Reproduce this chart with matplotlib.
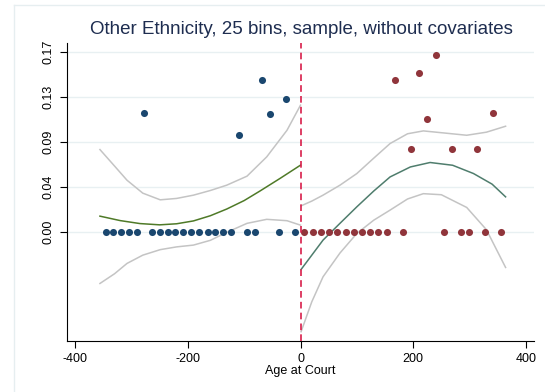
import matplotlib
matplotlib.use("Agg")
import matplotlib.pyplot as plt
from matplotlib.lines import Line2D

plt.rcParams['font.family'] = ['Liberation Sans', 'DejaVu Sans']

# binned means, left of cutoff
left_x = [-346, -332, -318, -305, -291, -277, -264, -250, -236, -222, -208, -194, -180,
          -165, -151, -137, -123, -109, -95, -81, -68, -54, -39, -25, -10]
left_y = [0, 0, 0, 0, 0, 0.112, 0, 0, 0, 0, 0, 0, 0,
          0, 0, 0, 0, 0.091, 0, 0, 0.143, 0.111, 0, 0.125, 0]

# binned means, right of cutoff
right_x = [6, 22, 36, 51, 65, 80, 95, 109, 124, 138, 153, 168, 182,
           197, 211, 225, 240, 255, 269, 284, 299, 313, 327, 342, 356]
right_y = [0, 0, 0, 0, 0, 0, 0, 0, 0, 0, 0, 0.143, 0,
           0.078, 0.150, 0.106, 0.167, 0, 0.078, 0, 0, 0.078, 0, 0.112, 0]

# fitted polynomial, left side
fitL_x = [-356, -320, -285, -250, -220, -190, -160, -131, -100, -72, -36, 0]
fitL_y = [0.0148, 0.0106, 0.0078, 0.0066, 0.0076, 0.0103, 0.0152, 0.0215, 0.0295, 0.0385, 0.0505, 0.0629]
# confidence band, left side
ciL_x = [-356, -330, -308, -280, -249, -220, -190, -160, -131, -95, -60, -24, 0]
ciL_hi = [0.0776, 0.0620, 0.0487, 0.0365, 0.0302, 0.0315, 0.0346, 0.0390, 0.0440, 0.0525, 0.0707, 0.0958, 0.1195]
ciL_lo = [-0.0487, -0.0395, -0.0298, -0.0220, -0.0168, -0.0142, -0.0125, -0.0080, -0.0005, 0.0080, 0.0118, 0.0105, 0.0063]

# fitted polynomial, right side
fitR_x = [1, 40, 70, 100, 130, 159, 195, 230, 270, 307, 340, 364]
fitR_y = [-0.0355, -0.0078, 0.0080, 0.0236, 0.0385, 0.0518, 0.0612, 0.0654, 0.0628, 0.0550, 0.0450, 0.0330]
# confidence band, right side
ciR_x = [1, 20, 40, 70, 100, 130, 159, 190, 218, 250, 295, 330, 364]
ciR_hi = [0.0245, 0.0290, 0.0346, 0.0440, 0.0550, 0.0695, 0.0833, 0.0925, 0.0952, 0.0935, 0.0911, 0.0940, 0.0996]
ciR_lo = [-0.0942, -0.0660, -0.0424, -0.0200, -0.0015, 0.0110, 0.0205, 0.0310, 0.0360, 0.0350, 0.0230, 0.0020, -0.0336]

yticks = [0, 0.0425, 0.085, 0.1275, 0.17]
ytick_labels = ['0.00', '0.04', '0.09', '0.13', '0.17']
xticks = [-400, -200, 0, 200, 400]

fig = plt.figure(figsize=(5.45, 3.92), dpi=100)
ax = fig.add_axes([0.1224, 0.130, 0.858, 0.760])

# faint outer frame (left and top edges only visible)
fig.add_artist(Line2D([14 / 545, 14 / 545], [0, 1 - 5 / 392], color='#e6eef0', lw=1))
fig.add_artist(Line2D([14 / 545, 1], [1 - 5 / 392, 1 - 5 / 392], color='#e6eef0', lw=1))

for t in yticks:
    ax.axhline(t, color='#e8f0f2', lw=1, zorder=0)

gray = '#c4c4c4'
ax.plot(ciL_x, ciL_hi, color=gray, lw=1.1)
ax.plot(ciL_x, ciL_lo, color=gray, lw=1.1)
ax.plot(ciR_x, ciR_hi, color=gray, lw=1.1)
ax.plot(ciR_x, ciR_lo, color=gray, lw=1.1)
ax.plot(fitL_x, fitL_y, color='#4f7a28', lw=1.1)
ax.plot(fitR_x, fitR_y, color='#4f7d6d', lw=1.1)

ax.scatter(left_x, left_y, s=26, color='#1a476f', zorder=3, linewidths=0)
ax.scatter(right_x, right_y, s=26, color='#90353b', zorder=3, linewidths=0)

ax.axvline(0, color='#d81e4a', lw=1.2, dashes=(4, 2.5), zorder=4)

ax.set_xlim(-415, 415)
ax.set_ylim(-0.103, 0.178)
ax.set_xticks(xticks)
ax.set_xticklabels([str(v) for v in xticks], fontsize=9)
ax.set_yticks(yticks)
ax.set_yticklabels(ytick_labels, fontsize=9, rotation=90, va='center')
ax.tick_params(axis='both', direction='out', length=5, width=0.8, color='black')
ax.set_xlabel('Age at Court', fontsize=9, labelpad=0)

for s in ['top', 'right']:
    ax.spines[s].set_visible(False)
for s in ['left', 'bottom']:
    ax.spines[s].set_linewidth(0.8)

fig.text(0.553, 1 - 30 / 392, 'Other Ethnicity, 25 bins, sample, without covariates',
         ha='center', va='center', fontsize=13.5, color='#1e2d50')

fig.savefig('out.png', dpi=100)
